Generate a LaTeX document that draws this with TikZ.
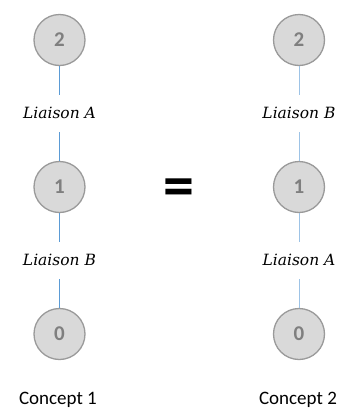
\documentclass[tikz,border=0pt]{standalone}
\usepackage{fontspec}
\setmainfont{Carlito}
\newfontfamily\liaisonfont{DejaVu Serif}
\definecolor{circfill}{HTML}{D9D9D9}
\definecolor{circdraw}{HTML}{9A9A9A}
\definecolor{numcol}{HTML}{7F7F7F}
\definecolor{linkA}{HTML}{5B9BD5}
\definecolor{linkB}{HTML}{9DC3E6}
\begin{document}
\begin{tikzpicture}[x=1pt,y=-1pt,
  level/.style={circle,draw=circdraw,line width=1.3pt,fill=circfill,minimum size=51pt,inner sep=0pt,
    font=\fontsize{21}{21}\selectfont\bfseries,text=numcol},
  liaison/.style={font=\liaisonfont\itshape\fontsize{15.5}{18}\selectfont,inner sep=0pt},
  concept/.style={font=\fontsize{19}{22}\selectfont,inner sep=0pt},
  linkleft/.style={draw=linkA,line width=0.6pt},
  linkright/.style={draw=linkB,line width=0.6pt}]
\useasboundingbox (0,0) rectangle (349,410);
% left column
\node[level] (l2) at (59.5,40) {2};
\node[liaison] (la) at (59.5,113) {Liaison A};
\node[level] (l1) at (59.5,187) {1};
\node[liaison] (lb) at (59.5,260) {Liaison B};
\node[level] (l0) at (59.5,334) {0};
\node[concept] (c1) at (58,400) {Concept 1};
% right column
\node[level] (r2) at (299,40) {2};
\node[liaison] (rb) at (299,113) {Liaison B};
\node[level] (r1) at (299,187) {1};
\node[liaison] (ra) at (299,260) {Liaison A};
\node[level] (r0) at (299,334) {0};
\node[concept] (c2) at (298,400) {Concept 2};
% equals
\node[font=\fontsize{62}{62}\selectfont\bfseries,inner sep=0pt] (eq) at (178.5,193) {=};
% connectors
\path[linkleft] (l2) -- ([yshift=18pt]la.center);
\path[linkleft] ([yshift=-19pt]la.center) -- (l1);
\path[linkleft] (l1) -- ([yshift=18pt]lb.center);
\path[linkleft] ([yshift=-19pt]lb.center) -- (l0);
\path[linkright] (r2) -- ([yshift=18pt]rb.center);
\path[linkright] ([yshift=-19pt]rb.center) -- (r1);
\path[linkright] (r1) -- ([yshift=18pt]ra.center);
\path[linkright] ([yshift=-19pt]ra.center) -- (r0);
\end{tikzpicture}
\end{document}
